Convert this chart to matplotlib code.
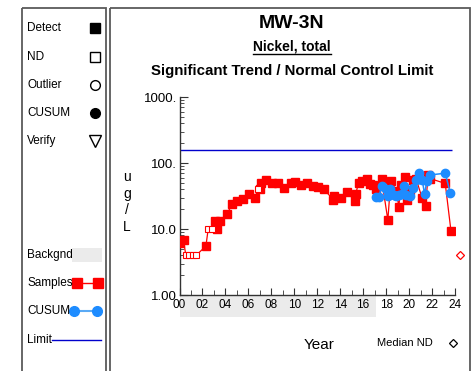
import numpy as np
import matplotlib
matplotlib.use("Agg")
import matplotlib.pyplot as plt
from matplotlib.patches import Rectangle
from matplotlib.transforms import blended_transform_factory
from matplotlib.ticker import FixedLocator, NullFormatter

plt.rcParams['font.family'] = ['Liberation Sans', 'DejaVu Sans']

# --- data -------------------------------------------------------------
# samples (year since 2000, value ug/L, 1 = non-detect)
sample_years = [0.05, 0.35, 0.55, 0.85, 1.15, 1.45, 2.3, 2.5, 2.8, 3.1, 3.25, 3.5,
                4.15, 4.6, 5.05, 5.55, 6.07, 6.57, 6.85, 7.05, 7.1, 7.5, 8.1, 8.55,
                9.1, 9.7, 10.1, 10.6, 11.1, 11.6, 12.1, 12.6, 13.4, 13.5, 14.1, 14.6,
                15.25, 15.35, 15.6, 15.9, 16.3, 16.6, 16.9, 17.15, 17.6, 18.15, 18.4,
                18.9, 19.1, 19.3, 19.65, 19.85, 20.05, 20.3, 20.6, 21.15, 21.45, 21.65,
                21.85, 23.15, 23.65]
sample_vals = [6.2, 6.8, 4, 4, 4, 4, 5.5, 10, 10, 13, 10, 13,
               17, 24, 26.5, 28, 33.5, 30, 40, 40, 50, 56, 49, 49,
               42, 49, 52, 46, 50, 45, 44, 40, 27.5, 32, 30, 36,
               27, 34, 50, 53, 58, 48, 46, 41, 58, 13.7, 53,
               38, 21.7, 46.5, 62, 27.5, 39, 55, 58, 29, 22.5, 66,
               58, 49, 9.3]
sample_nd = [0, 0, 1, 1, 1, 1, 0, 1, 1, 0, 0, 0,
             0, 0, 0, 0, 0, 0, 1, 0, 0, 0, 0, 0,
             0, 0, 0, 0, 0, 0, 0, 0, 0, 0, 0, 0,
             0, 0, 0, 0, 0, 0, 0, 0, 0, 0, 0,
             0, 0, 0, 0, 0, 0, 0, 0, 0, 0, 0,
             0, 0, 0]

cusum_years = [17.15, 17.35, 17.65, 17.95, 18.15, 18.35, 18.65, 18.9, 19.15, 19.4,
               19.6, 19.75, 20.1, 20.35, 20.6, 20.85, 21.15, 21.35, 21.55, 21.85,
               23.15, 23.6]
cusum_vals = [31, 31, 45, 41, 31.5, 40, 33, 31.5, 33, 33.5,
              45, 33, 31.5, 42, 56, 70, 55, 33.5, 54, 66,
              70, 34.6]

limit_value = 157
limit_end = 23.7
background_end = 17.1
median_nd_year = 24.4
median_nd_value = 4

x_ticks = list(range(0, 25, 2))
x_tick_labels = ["%02d" % t for t in x_ticks]
y_ticks = [1, 10, 100, 1000]
y_tick_labels = ["1.00", "10.0", "100.", "1000."]

RED = '#FF0000'
BLUE = '#1E8CFF'
BLUE_LINE = '#5AAAF5'
LIMIT = '#0000CC'
BOX = '#5A5A5A'

W, H = 476, 371
fig = plt.figure(figsize=(W / 100, H / 100), dpi=100)

# overlay in pixel coordinates for boxes, titles and the side legend
lax = fig.add_axes([0, 0, 1, 1])
lax.set_xlim(0, W)
lax.set_ylim(H, 0)
lax.axis('off')

lax.add_patch(Rectangle((22, 8), 84, 380, fill=False, ec=BOX, lw=1.3, clip_on=False))
lax.add_patch(Rectangle((110, 8), 360, 380, fill=False, ec=BOX, lw=1.3, clip_on=False))

# side legend
fs = 8.5
items = [("Detect", 28, dict(marker='s', mfc='black', mec='black', ms=7)),
         ("ND", 57, dict(marker='s', mfc='white', mec='black', ms=7, mew=1)),
         ("Outlier", 85, dict(marker='o', mfc='white', mec='black', ms=7, mew=1)),
         ("CUSUM", 113, dict(marker='o', mfc='black', mec='black', ms=7)),
         ("Verify", 141, dict(marker='v', mfc='white', mec='black', ms=8, mew=1))]
for label, y, style in items:
    lax.text(27, y, label, fontsize=fs, va='center', ha='left')
    lax.plot([94.5], [y], ls='none', **style)

lax.text(27, 255, "Backgnd", fontsize=fs, va='center', ha='left')
lax.add_patch(Rectangle((72, 248), 30, 14, color='#EBEBEB', lw=0))
lax.text(27, 283, "Samples", fontsize=fs, va='center', ha='left')
lax.plot([77, 97.5], [283, 283], color=RED, lw=1, marker='s', ms=7)
lax.text(27, 311, "CUSUM", fontsize=fs, va='center', ha='left')
lax.plot([74, 97], [311, 311], color=BLUE_LINE, lw=1.5)
lax.plot([74, 97], [311, 311], ls='none', marker='o', color=BLUE, ms=7)
lax.text(27, 340, "Limit", fontsize=fs, va='center', ha='left')
lax.plot([52, 101], [340, 340], color=LIMIT, lw=1)

# titles
lax.text(292, 24, "MW-3N", fontsize=14, fontweight='bold', ha='center', va='center')
lax.text(292, 46.5, "Nickel, total", fontsize=10, fontweight='bold', ha='center', va='center')
lax.plot([253, 331], [53.5, 53.5], color='black', lw=1)
lax.text(292, 71.5, "Significant Trend / Normal Control Limit", fontsize=10.8,
         fontweight='bold', ha='center', va='center')

# axis labels
lax.text(127, 202, "u\ng\n/\nL", fontsize=10, ha='center', va='center', linespacing=1.25)
lax.text(319, 345, "Year", fontsize=11, ha='center', va='center')
lax.text(377, 343, "Median ND", fontsize=8, ha='left', va='center')
lax.plot([453], [343], marker='D', mfc='white', mec='black', ms=4.5, mew=0.9)

# --- main plot --------------------------------------------------------
ax = fig.add_axes([179.5 / W, (H - 295) / H, (455 - 179.5) / W, (295 - 97) / H])
ax.set_facecolor('none')
ax.set_yscale('log')
ax.set_xlim(0, 24)
ax.set_ylim(1, 1000)

sx = np.array(sample_years)
sv = np.array(sample_vals)
nd = np.array(sample_nd, dtype=bool)
ax.plot(sx, sv, color=RED, lw=0.9, zorder=3)
ax.plot(sx[~nd], sv[~nd], ls='none', marker='s', color=RED, ms=5.5, zorder=4)
ax.plot(sx[nd], sv[nd], ls='none', marker='s', mfc='white', mec=RED, ms=4.5,
        mew=0.8, zorder=4)

ax.plot(cusum_years, cusum_vals, color=BLUE, lw=1.1, marker='o', ms=6,
        mec=BLUE, mfc=BLUE, zorder=5)

ax.hlines(limit_value, 0, limit_end, color=LIMIT, lw=1, zorder=2)

ax.plot([median_nd_year], [median_nd_value], marker='D', mfc='white', mec=RED,
        ms=4, mew=0.9, clip_on=False)

trans = blended_transform_factory(ax.transData, ax.transAxes)
ax.add_patch(Rectangle((0, -0.112), background_end, 0.112, transform=trans,
                       color='#EBEBEB', lw=0, clip_on=False, zorder=0))

for side in ['top', 'right']:
    ax.spines[side].set_visible(False)
for side in ['left', 'bottom']:
    ax.spines[side].set_color('#333333')
    ax.spines[side].set_linewidth(1)

ax.set_xticks(x_ticks)
ax.set_xticklabels(x_tick_labels, fontsize=8.5)
ax.xaxis.set_minor_locator(FixedLocator(range(1, 24, 2)))
ax.set_yticks(y_ticks)
ax.set_yticklabels(y_tick_labels, fontsize=9.5)
minors = [m * 10 ** d for d in range(3) for m in range(2, 10)]
ax.yaxis.set_minor_locator(FixedLocator(minors))
ax.yaxis.set_minor_formatter(NullFormatter())
ax.tick_params(axis='both', which='both', direction='in', color='#333333')
ax.tick_params(axis='x', which='major', length=5, pad=3)
ax.tick_params(axis='x', which='minor', length=3.5)
ax.tick_params(axis='y', which='major', length=6, pad=2)
ax.tick_params(axis='y', which='minor', length=3)

fig.savefig("out.png", dpi=100)
